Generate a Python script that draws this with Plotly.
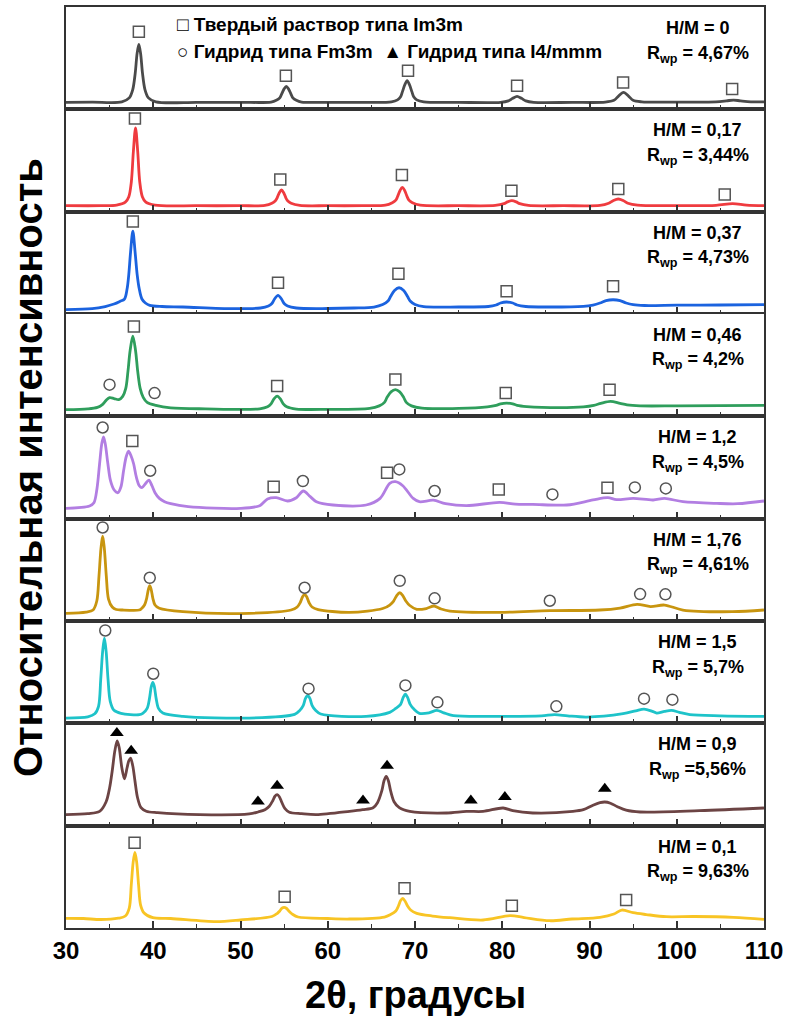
import plotly.graph_objects as go
from plotly.subplots import make_subplots

# ---------------- data (2theta in degrees, intensity in arbitrary units per panel) -------------
x_hm0 = [30, 33, 36.4, 37.25, 37.65, 37.93, 38.15, 38.35, 38.55, 38.77, 39.05, 39.45, 40.3, 45, 50,
         53.5, 54.1, 54.5, 54.7, 55.0, 55.25, 55.5, 55.8, 56.0, 56.4, 57.0, 60, 64,
         67.3, 68.0, 68.35, 68.55, 68.85, 69.1, 69.35, 69.65, 69.85, 70.2, 71.0, 75,
         79.8, 80.7, 81.2, 81.7, 82.2, 82.7, 83.6, 88, 91.8, 92.8, 93.3, 93.9, 94.5, 95.0, 96.0, 100,
         104.5, 105.7, 106.5, 107.3, 108.5, 110]
y_hm0 = [7, 7.2, 7.5, 11.5, 19.8, 36, 56, 65, 56, 36, 19.8, 11.5, 7.5, 7, 7,
         7.3, 9, 11.5, 15, 20.5, 23, 20.5, 15, 11.5, 9, 7.3, 7, 7,
         7.5, 9.5, 12.5, 17.5, 25, 28.7, 25, 17.5, 12.5, 9.5, 7.5, 7,
         7, 8.5, 11, 13, 11, 8.5, 7, 7, 7.2, 9, 13, 17, 13, 9, 7.5, 7.3,
         7.5, 8.5, 9.3, 8.5, 7.5, 7.5]

x_hm017 = [30, 34, 35.8, 36.8, 37.2, 37.49, 37.72, 37.97, 38.22, 38.45, 38.75, 39.15, 40.2, 45, 50,
           52.8, 53.6, 54.0, 54.2, 54.45, 54.7, 54.95, 55.2, 55.4, 55.8, 56.8, 60, 64,
           66.6, 67.4, 67.8, 68.0, 68.3, 68.55, 68.8, 69.1, 69.3, 69.7, 70.6, 75,
           79.2, 80.2, 80.6, 81.1, 81.6, 82.0, 83.0, 87, 91.2, 92.2, 92.7, 93.3, 93.9, 94.4, 95.5, 100,
           104.5, 106.4, 108, 110]
y_hm017 = [6, 6, 6.5, 9.5, 15, 30, 60, 84, 60, 30, 15, 9.5, 6.5, 6, 6,
           6.3, 8.5, 11, 13.8, 19, 21.7, 19, 13.8, 11, 8.5, 6.3, 6, 6,
           6.5, 9, 11.5, 15, 21.5, 24.3, 21.5, 15, 11.5, 9, 6.5, 6,
           6.2, 8, 9.8, 11, 9.8, 8, 6.2, 6, 6.3, 8.5, 11, 12.7, 11, 8.5, 6.5, 6,
           6.3, 8, 6.5, 6]

x_hm037 = [30, 33, 34.5, 35.5, 36.2, 36.7, 37.0, 37.2, 37.4, 37.66, 37.92, 38.15, 38.4, 38.7, 39.1, 39.6, 41, 43.4,
           49.1, 52.3, 53.2, 53.6, 53.9, 54.3, 54.7, 55.0, 55.4, 56.4, 60, 63,
           65.3, 66.3, 66.9, 67.2, 67.65, 68.17, 68.7, 69.15, 69.45, 70.0, 71.0, 75,
           78.4, 79.3, 79.8, 80.5, 81.2, 81.7, 82.7, 85, 89.3, 90.4, 91.2, 91.9, 92.7, 93.5, 94.2, 95.0, 96.3,
           100, 105, 110]
y_hm037 = [4.3, 5.3, 7.5, 10, 12.7, 15, 25, 40, 62, 83, 62, 40, 25, 15, 11, 8.7, 7.5, 7,
           5.3, 6, 8, 10.5, 15, 18.7, 15, 10.5, 8, 6, 5.5, 6,
           7, 9.5, 13, 17.5, 23.5, 26.3, 23.5, 17.5, 13, 9.5, 7.3, 7,
           7.5, 9, 11, 12, 11, 9, 7.5, 7, 7.7, 9, 11, 13.5, 14.3, 13.5, 11, 9.3, 8.5,
           8.8, 9, 9.3]

x_hm046 = [30, 32.5, 33.6, 34.2, 34.6, 35.0, 35.5, 36.05, 36.5, 36.85, 37.1, 37.35, 37.66, 37.97, 38.22, 38.5, 38.85,
           39.3, 40.3, 42, 46, 52.2, 53.1, 53.5, 53.8, 54.2, 54.6, 54.9, 55.3, 56.4, 60,
           64.8, 65.9, 66.5, 66.8, 67.25, 67.75, 68.25, 68.7, 69.0, 69.6, 70.8, 75,
           78.3, 79.3, 79.8, 80.5, 81.2, 81.7, 82.8, 86.6, 89.3, 90.5, 91.3, 92.4, 93.5, 94.3, 95.8, 100, 110]
y_hm046 = [6.7, 7.5, 9, 12, 16, 18.7, 17.8, 16.7, 20, 28, 45, 66, 80.3, 66, 45, 28, 19,
           14, 11, 8.5, 7.5, 7.5, 9.5, 12.5, 17, 20.3, 17, 12.5, 9.5, 7.3, 7,
           8, 10.5, 14, 19, 24.5, 26.7, 24.5, 19, 14, 10.5, 8.2, 8,
           9.5, 11, 12.5, 13.3, 12.5, 11, 9.8, 8.7, 9.5, 11, 13, 15, 13, 11.5, 10.5, 10.5, 11]

x_hm12 = [30, 32.7, 33.2, 33.55, 33.85, 34.1, 34.3, 34.5, 34.8, 35.1, 35.5, 35.95, 36.3, 36.6, 36.9, 37.17, 37.45,
          37.75, 38.05, 38.4, 38.7, 39.1, 39.5, 39.85, 40.2, 40.7, 41.3, 42, 44, 50,
          52.2, 53.1, 54.1, 55.4, 56.4, 57.2, 58.0, 58.7, 60.6, 64.4, 66.0, 67.1, 67.75,
          68.6, 69.8, 70.5, 72.1, 73.5, 75.9, 79.7, 81.5, 83.5, 87.4, 90.4, 92.1, 93.1, 95.0, 97.3, 98.6, 100.7, 104.6,
          107, 110]
y_hm12 = [10.3, 12.7, 16, 30, 55, 75, 82, 75, 55, 38, 29, 26, 32, 48, 62, 67.7, 63,
          55, 42, 33, 31, 35, 38.7, 33, 26, 20.3, 17, 15, 12, 10.3,
          13, 19.7, 21, 17.7, 21, 27.7, 22, 17, 13.7, 13.7, 20.3, 35.3, 37,
          33, 20.3, 17, 18.5, 15, 13, 16.3, 14.5, 14.3, 13.7, 18.7, 21, 19, 20.3, 18.7, 20.3, 17, 15.3,
          15, 17.7]

x_hm176 = [30, 32.3, 33.1, 33.53, 33.78, 34.01, 34.2, 34.39, 34.62, 34.87, 35.3, 35.76, 36.5, 38.4, 38.6, 39.0, 39.25,
           39.45, 39.6, 39.75, 39.95, 40.2, 40.7, 43.4, 51, 55.8, 56.5, 56.85, 57.1, 57.35, 57.6, 57.85, 58.2, 58.9,
           62.5, 66.3, 67.1, 67.55, 67.9, 68.25, 68.6, 68.95, 69.4, 70.2, 71.3, 72.2, 73.0, 74, 79.7,
           85.45, 91.2, 93.5, 95.45, 97.0, 98.6, 100.7, 106.4, 110]
y_hm176 = [7.7, 9, 11, 20, 45, 73, 85, 73, 45, 22, 14, 11.5, 11, 11, 12, 16, 23,
           32, 35.3, 32, 23, 16, 12.7, 9.3, 7.7, 11, 14, 18.5, 24, 26.7, 24, 18.5, 14, 11.5,
           8.7, 12.5, 16, 20, 25.5, 28.3, 25.5, 20, 15.5, 11.7, 12.5, 15, 12, 10, 8.7,
           10.3, 11, 13, 16.7, 14.5, 16, 11, 9.3, 11]

x_hm15 = [30, 32.5, 33.3, 33.73, 33.98, 34.2, 34.4, 34.6, 34.82, 35.07, 35.5, 36.3, 38.4, 38.8, 39.3, 39.57, 39.78,
          39.95, 40.12, 40.33, 40.6, 41.1, 43.4, 51, 56.2, 56.8, 57.2, 57.45, 57.7, 57.95, 58.2, 58.6, 59.2, 64.4,
          67.1, 67.8, 68.35, 68.65, 68.9, 69.15, 69.45, 69.9, 70.5, 71.6, 72.5, 73.3, 74.4, 79.7, 84.5, 86.0, 87.5,
          89.65, 93.85, 95.3, 96.25, 97.2, 97.7, 98.6, 99.4, 100.3, 101.5, 105, 110]
y_hm15 = [5.3, 6.5, 9.5, 17, 44, 72, 85.3, 72, 44, 22, 13, 10, 8.7, 10, 15, 25, 37,
          41, 37, 25, 15, 10.3, 7, 5.3, 9, 13, 18, 25, 28, 25, 18, 13, 9.3, 7,
          11, 15, 19, 26, 29.3, 26, 19, 14, 10, 10.5, 13, 10.5, 7.7, 7, 7.5, 8.7, 7.5,
          6.3, 9.7, 12.5, 14.3, 12, 10.3, 12, 13, 11, 8.7, 7.5, 7]

x_hm09 = [30, 32.5, 33.85, 34.6, 35.0, 35.3, 35.6, 35.87, 36.1, 36.4, 36.7, 37.0, 37.2, 37.4, 37.65, 37.9, 38.2,
          38.6, 39.2, 40.5, 45.3, 51, 52.0, 52.8, 53.3, 53.7, 53.95, 54.2, 54.45, 54.75, 55.1, 55.6, 57,
          58.7, 62.5, 64, 65.2, 65.7, 66.2, 66.45, 66.7, 66.95, 67.2, 67.6, 68.2, 69.4, 73.6, 75.9, 77.8, 80.1,
          81.2, 83.5, 88.1, 89.3, 90.4, 91.2, 91.75, 92.4, 93.2, 94.2, 95.8, 102.6, 110]
y_hm09 = [11, 12, 14.3, 24, 38, 55, 75, 85, 78, 58, 47, 58, 65, 67.7, 60, 45, 28,
          18, 14.5, 13, 11, 11.7, 13.7, 16, 19.5, 25, 29.5, 31, 29, 23, 17, 13.5, 12,
          11, 14.3, 16, 18, 23, 35, 45, 49.3, 45, 35, 24, 18, 14.3, 12.7, 14.3, 14.3, 17.7,
          15, 12.7, 14.3, 16, 20.5, 23, 23.7, 22.5, 19, 15.5, 13.7, 15, 17.7]

x_hm01 = [30, 32, 34, 36.0, 36.8, 37.25, 37.48, 37.7, 37.9, 38.1, 38.32, 38.55, 38.95, 39.95, 42, 47.2, 50,
          53.6, 54.2, 54.5, 54.75, 55.0, 55.25, 55.6, 56.0, 56.6, 60, 62.5,
          66.5, 67.2, 67.8, 68.1, 68.35, 68.6, 68.85, 69.15, 69.5, 70.2, 72, 74, 77.8, 80.9, 82.5, 85.45, 88,
          91.2, 92.8, 93.7, 95, 96.5, 98.8, 102, 106.5, 110]
y_hm01 = [9.7, 9.5, 8.5, 9.8, 12, 20, 43, 66, 75.7, 66, 43, 23, 15, 10.3, 9.5, 6.3, 8,
          11.5, 14.5, 17, 19.8, 20.7, 19.8, 16.5, 13.5, 11, 9.5, 9,
          11, 13.5, 17, 22, 27.5, 29.7, 27, 22, 18, 14.7, 12, 10.3, 8, 12.3, 10.5, 7.3, 9,
          10.7, 14, 18, 15.3, 13.5, 11.3, 11.5, 10.7, 8.7]

# phase marks (peak identification) per panel
sq_x = {1: [38.35, 55.2, 69.2, 81.7, 93.85, 106.35], 2: [37.9, 54.56, 68.5, 81.05, 93.3, 105.5],
        3: [37.66, 54.3, 68.1, 80.5, 92.7], 4: [37.78, 54.2, 67.75, 80.4, 92.3],
        5: [37.6, 53.8, 66.8, 79.6, 92.06], 9: [37.86, 55.06, 68.8, 81.1, 94.2]}
sq_y = {1: [77.7, 33.7, 38.7, 23.7, 27, 20.3], 2: [93.3, 32.3, 36.7, 21, 22.7, 17.3],
        3: [92.7, 31.3, 40.3, 22.7, 27.7], 4: [90, 30.3, 37, 23.3, 26.7],
        5: [77.7, 32, 46, 29.3, 31], 9: [85.3, 31.3, 39.7, 22.3, 28]}
ci_x = {4: [34.99, 40.15], 5: [34.2, 39.65, 57.15, 68.2, 72.25, 85.75, 95.2, 98.75],
        6: [34.2, 39.6, 57.35, 68.25, 72.25, 85.45, 95.8, 98.7],
        7: [34.5, 40, 57.8, 68.9, 72.57, 86.2, 96.25, 99.5]}
ci_y = {4: [31.7, 23.3], 5: [91.3, 48, 37.7, 49.3, 27.7, 24.3, 31.3, 30.3],
        6: [93.7, 43.3, 33.3, 40.3, 22.7, 20.3, 27, 26.7],
        7: [93, 49.7, 34.7, 38, 21, 17, 24.7, 23.7]}
tr_x = {8: [35.83, 37.47, 52, 54.2, 64.04, 66.8, 76.4, 80.3, 91.75]}
tr_y = {8: [92.7, 75, 24.3, 40, 25.3, 60, 25.3, 28.7, 37]}

hm_labels = ["H/M = 0", "H/M = 0,17", "H/M = 0,37", "H/M = 0,46", "H/M = 1,2",
             "H/M = 1,76", "H/M = 1,5", "H/M = 0,9", "H/M = 0,1"]
rwp_labels = ["R<sub>wp</sub> = 4,67%", "R<sub>wp</sub> = 3,44%", "R<sub>wp</sub> = 4,73%", "R<sub>wp</sub> = 4,2%",
              "R<sub>wp</sub> = 4,5%", "R<sub>wp</sub> = 4,61%", "R<sub>wp</sub> = 5,7%", "R<sub>wp</sub> =5,56%",
              "R<sub>wp</sub> = 9,63%"]

series_x = [x_hm0, x_hm017, x_hm037, x_hm046, x_hm12, x_hm176, x_hm15, x_hm09, x_hm01]
series_y = [y_hm0, y_hm017, y_hm037, y_hm046, y_hm12, y_hm176, y_hm15, y_hm09, y_hm01]
colors = ["#4a4a4a", "#ef3b3f", "#1b63df", "#2f9e5c", "#b27ee2", "#c8950f", "#1ec3c9", "#6c4444", "#f8c424"]

FONT = "Liberation Sans, Arial, sans-serif"
AX = "#333333"
MK = "#555555"

fig = make_subplots(rows=9, cols=1, shared_xaxes=True, vertical_spacing=0)

for i in range(9):
    r = i + 1
    fig.add_trace(go.Scatter(x=series_x[i], y=series_y[i], mode="lines",
                             line=dict(color=colors[i], width=2.8, shape="spline", smoothing=0.9),
                             hoverinfo="skip"), row=r, col=1)
    if r in sq_x:
        fig.add_trace(go.Scatter(x=sq_x[r], y=sq_y[r], mode="markers", cliponaxis=False, hoverinfo="skip",
                                 marker=dict(symbol="square-open", size=11, color=MK, line=dict(width=1.5, color=MK))),
                      row=r, col=1)
    if r in ci_x:
        fig.add_trace(go.Scatter(x=ci_x[r], y=ci_y[r], mode="markers", cliponaxis=False, hoverinfo="skip",
                                 marker=dict(symbol="circle-open", size=11, color=MK, line=dict(width=1.5, color=MK))),
                      row=r, col=1)
    if r in tr_x:
        fig.add_trace(go.Scatter(x=tr_x[r], y=tr_y[r], mode="markers", cliponaxis=False, hoverinfo="skip",
                                 marker=dict(symbol="triangle-up", size=12, color="black")),
                      row=r, col=1)

    fig.update_xaxes(range=[30, 110], tick0=30, dtick=10, ticks="inside", ticklen=7, tickwidth=1.6, tickcolor=AX,
                     minor=dict(ticks="inside", ticklen=4, tickwidth=1.4, tickcolor=AX, dtick=5, tick0=30),
                     showline=True, mirror=True, linecolor=AX, linewidth=2, showgrid=False, zeroline=False,
                     showticklabels=(r == 9),
                     tickfont=dict(family=FONT, size=24, color="black", weight="bold"),
                     row=r, col=1)
    fig.update_yaxes(range=[0, 102.5], showticklabels=False, ticks="", showline=True, mirror=True,
                     linecolor=AX, linewidth=2, showgrid=False, zeroline=False, row=r, col=1)

    yd = "y domain" if r == 1 else f"y{r} domain"
    fig.add_annotation(text=hm_labels[i], xref="paper", yref=yd, x=0.905, y=1, yshift=-21,
                       xanchor="center", yanchor="middle", showarrow=False,
                       font=dict(family=FONT, size=18, color="black", weight="bold"))
    fig.add_annotation(text=rwp_labels[i], xref="paper", yref=yd, x=0.905, y=1, yshift=-47,
                       xanchor="center", yanchor="middle", showarrow=False,
                       font=dict(family=FONT, size=18, color="black", weight="bold"))

# phase legend inside the top panel
fig.add_annotation(text="□ Твердый раствор типа Im3m", xref="paper", yref="y domain",
                   x=(175 - 66.5) / 697.5, y=1, yshift=-17, xanchor="left", yanchor="middle", showarrow=False,
                   font=dict(family=FONT, size=19, color="black", weight="bold"))
fig.add_annotation(text="○ Гидрид типа Fm3m  ▲ Гидрид типа I4/mmm", xref="paper", yref="y domain",
                   x=(175 - 66.5) / 697.5, y=1, yshift=-44, xanchor="left", yanchor="middle", showarrow=False,
                   font=dict(family=FONT, size=19, color="black", weight="bold"))

# axis titles
fig.add_annotation(text="2θ, градусы", xref="paper", yref="paper", x=0.5, y=-0.073,
                   xanchor="center", yanchor="middle", showarrow=False,
                   font=dict(family=FONT, size=38, color="black", weight="bold"))
fig.add_annotation(text="Относительная интенсивность", xref="paper", yref="paper", x=-0.055, y=0.5,
                   xanchor="center", yanchor="middle", textangle=-90, showarrow=False,
                   font=dict(family=FONT, size=40, color="black", weight="bold"))

fig.update_layout(width=791, height=1018, margin=dict(l=66, r=27, t=5, b=90),
                  plot_bgcolor="white", paper_bgcolor="white", showlegend=False, hovermode=False)

fig.write_html("out.html", config={"displayModeBar": False},
               post_script="document.body.style.margin='0';")
